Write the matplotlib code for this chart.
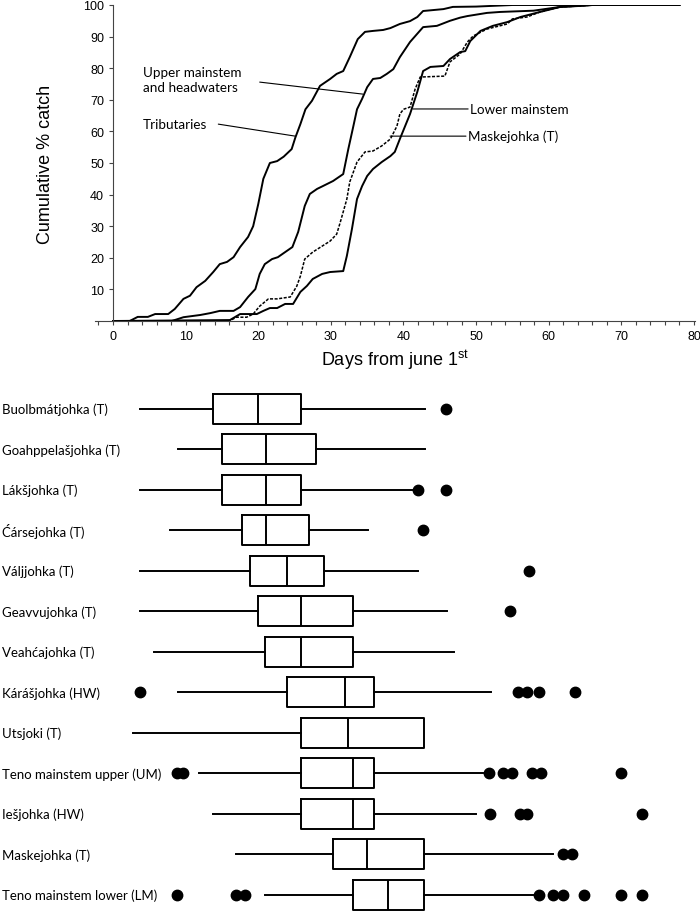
import matplotlib
matplotlib.use('Agg')
import matplotlib.pyplot as plt
from matplotlib.ticker import MultipleLocator
from matplotlib.transforms import blended_transform_factory

plt.rcParams['font.family'] = ['Liberation Sans', 'DejaVu Sans']
plt.rcParams['mathtext.fontset'] = 'custom'
plt.rcParams['mathtext.rm'] = 'Liberation Sans'

LABEL_FONT = ['Lato', 'DejaVu Sans']

# ---- cumulative catch curves (days from June 1st, cumulative %) ----
trib_day = [0, 2.3, 3.4, 4.8, 5.8, 7.6, 8.5, 9.7, 10.6, 11.5, 12.7, 13.8, 14.7, 15.7, 16.6,
            17.5, 18.6, 19.3, 20.0, 20.7, 21.6, 22.6, 23.5, 24.6, 25.1, 25.8, 26.5, 27.4,
            28.5, 29.9, 30.8, 31.7, 32.6, 33.7, 34.7, 35.8, 37.2, 38.2, 39.5, 40.9, 41.9,
            42.7, 44.1, 45.5, 46.8, 50.0, 55.0, 78.0]
trib_pct = [0, 0, 1.3, 1.3, 2.2, 2.2, 3.8, 7.0, 8.0, 10.7, 12.7, 15.5, 18.0, 18.7, 20.2,
            23.4, 26.6, 30.0, 37.0, 45.0, 50.0, 50.6, 52.0, 54.4, 58.0, 62.3, 67.0, 69.7,
            74.4, 76.6, 78.2, 79.1, 83.5, 89.2, 91.5, 91.8, 92.1, 92.7, 94.0, 94.9, 96.2,
            98.1, 98.4, 98.7, 99.4, 99.5, 100, 100]

upper_day = [0, 8.1, 9.7, 12.0, 13.4, 14.7, 16.6, 17.5, 18.6, 19.6, 20.2, 20.9, 21.9, 22.7,
             23.7, 24.7, 25.5, 26.4, 27.1, 28.1, 28.9, 30.3, 31.7, 32.4, 33.1, 33.6, 34.3,
             35.0, 35.8, 36.8, 37.7, 38.6, 39.5, 40.9, 42.7, 44.6, 46.4, 47.8, 48.8, 51.5,
             53.3, 57.9, 61.6, 64.3, 66.0, 78.0]
upper_pct = [0, 0, 1.2, 1.9, 2.5, 3.2, 3.2, 4.4, 7.6, 10.1, 14.9, 18.0, 19.6, 20.2,
             21.8, 23.4, 28.2, 36.4, 40.2, 41.8, 42.7, 44.3, 46.5, 54.4, 61.7, 67.0, 70.3,
             74.0, 76.6, 76.9, 78.2, 79.7, 83.5, 88.3, 93.0, 93.4, 95.0, 96.0, 96.5, 97.5,
             97.8, 98.2, 99.4, 99.7, 100, 100]

mask_day = [0, 16.0, 17.0, 18.4, 19.3, 20.2, 21.4, 22.6, 24.4, 25.3, 25.8, 26.4, 27.5, 28.8,
            29.9, 30.8, 31.3, 32.2, 32.6, 33.6, 34.7, 35.8, 37.0, 38.2, 39.1, 39.5, 40.0,
            40.9, 41.6, 42.3, 45.7, 46.4, 47.8, 48.8, 49.6, 51.5, 54.3, 55.0, 57.0, 58.8,
            61.6, 64.3, 66.0, 78.0]
mask_pct = [0, 0, 1.2, 1.2, 2.2, 4.7, 7.0, 7.0, 7.6, 11.0, 14.2, 19.6, 21.8, 23.7,
            25.3, 27.5, 31.3, 38.6, 44.0, 50.3, 53.5, 53.8, 55.4, 57.6, 61.7, 65.5, 67.0,
            67.7, 73.4, 77.2, 77.5, 82.0, 84.5, 88.3, 90.2, 92.4, 94.0, 95.6, 96.2, 97.8,
            99.4, 99.7, 100, 100]

lower_day = [0, 16.1, 17.5, 19.8, 20.7, 21.6, 22.6, 23.7, 24.8, 25.8, 26.7, 27.5, 28.8, 29.9,
             31.7, 32.2, 32.9, 33.6, 34.3, 35.0, 35.8, 37.0, 38.2, 38.8, 39.5, 40.9, 41.9,
             42.7, 43.7, 45.5, 46.4, 47.8, 48.5, 49.2, 50.6, 52.3, 54.3, 56.1, 58.8, 61.6,
             66.0, 78.0]
lower_pct = [0, 0.3, 2.2, 2.2, 3.2, 4.1, 4.1, 5.4, 5.4, 9.2, 11.1, 13.3, 14.9, 15.5,
             15.8, 20.6, 29.1, 38.6, 42.7, 45.9, 48.1, 50.3, 52.2, 53.5, 57.6, 65.5, 72.5,
             79.1, 80.4, 80.7, 82.9, 85.1, 85.4, 88.6, 91.8, 93.4, 94.6, 96.2, 97.8, 99.4,
             100, 100]

# ---- box plots of catch day per river ----
rivers = ['Buolbmátjohka (T)', 'Goahppelašjohka (T)', 'Lákšjohka (T)', 'Ćársejohka (T)',
          'Váljjohka (T)', 'Geavvujohka (T)', 'Veahćajohka (T)', 'Kárášjohka (HW)',
          'Utsjoki (T)', 'Teno mainstem upper (UM)', 'Iešjohka (HW)', 'Maskejohka (T)',
          'Teno mainstem lower (LM)']
whis_lo = [3.7, 8.9, 3.7, 7.8, 3.7, 3.7, 5.7, 8.9, 2.8, 11.8, 13.8, 16.9, 20.9]
q1 = [13.8, 15.0, 15.0, 17.8, 18.9, 19.9, 20.9, 23.9, 25.9, 25.9, 25.9, 30.3, 33.0]
median = [19.9, 21.0, 21.0, 21.0, 23.9, 25.9, 25.9, 31.9, 32.3, 33.0, 33.0, 35.0, 37.9]
q3 = [25.9, 27.9, 25.9, 27.0, 29.0, 33.0, 33.0, 35.9, 42.8, 35.9, 35.9, 42.8, 42.8]
whis_hi = [42.9, 42.9, 41.6, 35.1, 42.0, 46.0, 46.9, 52.0, 42.8, 51.0, 50.0, 60.6, 58.0]
outliers = [
    [45.9],
    [],
    [42.0, 45.8],
    [42.7],
    [57.3],
    [54.7],
    [],
    [3.7, 55.7, 57.0, 58.7, 63.6],
    [],
    [8.8, 9.7, 51.8, 53.7, 54.9, 57.7, 58.9, 70.0],
    [51.9, 56.1, 57.0, 72.9],
    [61.9, 63.2],
    [8.8, 17.0, 18.2, 58.6, 60.6, 61.9, 64.9, 70.0, 72.8],
]

fig = plt.figure(figsize=(7, 9.12), dpi=100)

# ---------------- top panel ----------------
ax = fig.add_axes([95 / 700, 1 - 322 / 912, 600 / 700, 316 / 912])
ax.plot(trib_day, trib_pct, color='black', lw=1.4)
ax.plot(upper_day, upper_pct, color='black', lw=1.4)
ax.plot(lower_day, lower_pct, color='black', lw=1.4)
ax.plot(mask_day, mask_pct, color='black', lw=1.1, linestyle=(0, (2, 1)))

ax.set_xlim(-2.48, 80.14)
ax.set_ylim(0, 100)
ax.spines['left'].set_position(('data', 0))
ax.spines['top'].set_visible(False)
ax.spines['right'].set_visible(False)
ax.spines['left'].set_color('#444444')
ax.spines['bottom'].set_color('#444444')
ax.set_xticks(range(0, 81, 10))
ax.xaxis.set_minor_locator(MultipleLocator(2))
ax.set_yticks(range(10, 101, 10))
ax.tick_params(which='both', direction='out', length=3, width=0.8, colors='#444444',
               labelcolor='black', labelsize=9)
ax.set_xlabel('Days from june 1$^{\\mathrm{st}}$', fontsize=13, labelpad=4)
ax.set_ylabel('Cumulative % catch', fontsize=13, labelpad=2)
ax.yaxis.set_label_coords(-0.068, 0.5)

# curve labels with leader lines
ax.text(4.1, 76.4, 'Upper mainstem\nand headwaters', fontsize=9.7, family=LABEL_FONT,
        va='center', ha='left', linespacing=1.3)
ax.annotate('', xy=(34.4, 71.8), xytext=(20.2, 75.6),
            arrowprops=dict(arrowstyle='-', lw=0.8, shrinkA=0, shrinkB=0))
ax.text(4.1, 62.3, 'Tributaries', fontsize=9.7, family=LABEL_FONT, va='center', ha='left')
ax.annotate('', xy=(25.1, 58.5), xytext=(14.5, 62.3),
            arrowprops=dict(arrowstyle='-', lw=0.8, shrinkA=0, shrinkB=0))
ax.text(49.2, 67.1, 'Lower mainstem', fontsize=9.7, family=LABEL_FONT, va='center', ha='left')
ax.annotate('', xy=(41.3, 67.1), xytext=(48.9, 67.1),
            arrowprops=dict(arrowstyle='-', lw=0.8, shrinkA=0, shrinkB=0))
ax.text(48.9, 58.5, 'Maskejohka (T)', fontsize=9.7, family=LABEL_FONT, va='center', ha='left')
ax.annotate('', xy=(38.15, 58.5), xytext=(48.6, 58.5),
            arrowprops=dict(arrowstyle='-', lw=0.8, shrinkA=0, shrinkB=0))

# ---------------- bottom panel ----------------
bx = fig.add_axes([95 / 700, 0, 600 / 700, 522 / 912])
stats = []
for i in range(len(rivers)):
    stats.append(dict(med=median[i], q1=q1[i], q3=q3[i], whislo=whis_lo[i],
                      whishi=whis_hi[i], fliers=outliers[i], label=rivers[i]))
bx.bxp(stats, positions=range(len(rivers)), vert=False, widths=0.74, showcaps=False,
       boxprops=dict(color='black', lw=1.4),
       medianprops=dict(color='black', lw=1.4),
       whiskerprops=dict(color='black', lw=1.4),
       flierprops=dict(marker='o', markerfacecolor='black', markeredgecolor='black',
                       markersize=7.5))
bx.set_xlim(-2.48, 80.14)
bx.set_ylim(12.40, -0.493)
bx.axis('off')

trans = blended_transform_factory(fig.transFigure, bx.transData)
for i, name in enumerate(rivers):
    bx.text(0.003, i, name, transform=trans, fontsize=9.5, family=LABEL_FONT,
            va='center', ha='left')

fig.savefig('out.png', dpi=100)
